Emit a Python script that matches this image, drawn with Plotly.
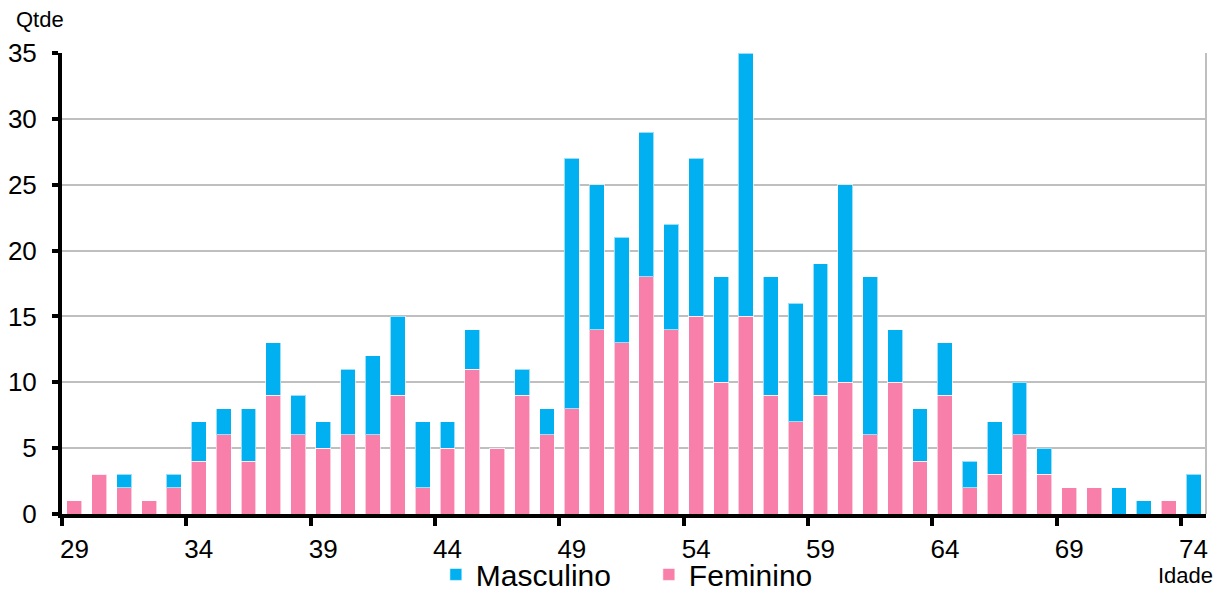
import plotly.graph_objects as go

ages = list(range(29, 75))
feminino = [1, 3, 2, 1, 2, 4, 6, 4, 9, 6, 5, 6, 6, 9, 2, 5, 11, 5, 9, 6,
            8, 14, 13, 18, 14, 15, 10, 15, 9, 7, 9, 10, 6, 10, 4, 9, 2, 3, 6, 3,
            2, 2, 0, 0, 1, 0]
total = [1, 3, 3, 1, 3, 7, 8, 8, 13, 9, 7, 11, 12, 15, 7, 7, 14, 5, 11, 8,
         27, 25, 21, 29, 22, 27, 18, 35, 18, 16, 19, 25, 18, 14, 8, 13, 4, 7, 10, 5,
         2, 2, 2, 1, 1, 3]
masculino = [t - f for t, f in zip(total, feminino)]
x_ticks = list(range(29, 75, 5))
y_ticks = list(range(0, 36, 5))

PINK = "#F87FA9"
BLUE = "#00B0F0"
FONT = "Liberation Sans"

fig = go.Figure()
fig.add_trace(go.Bar(x=ages, y=feminino, name="Feminino", marker_color=PINK,
                     marker_line=dict(color="rgba(255,255,255,0.6)", width=1),
                     legendrank=2))
fig.add_trace(go.Bar(x=ages, y=masculino, name="Masculino", marker_color=BLUE,
                     marker_line=dict(color="rgba(255,255,255,0.6)", width=1),
                     legendrank=1))

fig.update_layout(
    barmode="stack",
    bargap=0.4,
    width=1217, height=589,
    margin=dict(l=62, r=11, t=53, b=75, autoexpand=False),
    plot_bgcolor="white", paper_bgcolor="white",
    font=dict(family=FONT, size=25, color="black"),
    legend=dict(orientation="h", x=0.513, xanchor="center", y=-0.131, yanchor="middle",
                font=dict(size=30), itemwidth=30, tracegroupgap=0,
                entrywidth=168, bgcolor="rgba(0,0,0,0)",
                traceorder="normal"),
    xaxis=dict(range=[28.5, 74.5], tickmode="array", tickvals=x_ticks,
               ticks="", showgrid=False, zeroline=False, automargin=False,
               showline=True, linecolor="black", linewidth=4,
               tickfont=dict(size=26), ticklabelstandoff=9,
               minor=dict(tickmode="array", tickvals=[v - 0.5 for v in x_ticks],
                          ticks="outside", ticklen=8, tickwidth=4, tickcolor="black",
                          showgrid=False)),
    yaxis=dict(range=[0, 35], tickmode="array", tickvals=y_ticks,
               ticks="outside", ticklen=6, tickwidth=4, tickcolor="black",
               showgrid=True, gridcolor="#BFBFBF", gridwidth=2, zeroline=False,
               showline=True, linecolor="black", linewidth=4, automargin=False,
               tickfont=dict(size=26), ticklabelstandoff=10),
    shapes=[dict(type="line", xref="paper", yref="paper", x0=1, x1=1, y0=0, y1=1,
                 line=dict(color="#BFBFBF", width=2))],
    annotations=[
        dict(text="Qtde", xref="paper", yref="paper", x=-0.019, y=1.072,
             xanchor="center", yanchor="middle", showarrow=False, font=dict(size=22)),
        dict(text="Idade", xref="paper", yref="paper", x=0.9825, y=-0.133,
             xanchor="center", yanchor="middle", showarrow=False, font=dict(size=22)),
    ],
)

fig.write_html("out.html", config={"displayModeBar": False},
               post_script="document.body.style.margin='0';")
